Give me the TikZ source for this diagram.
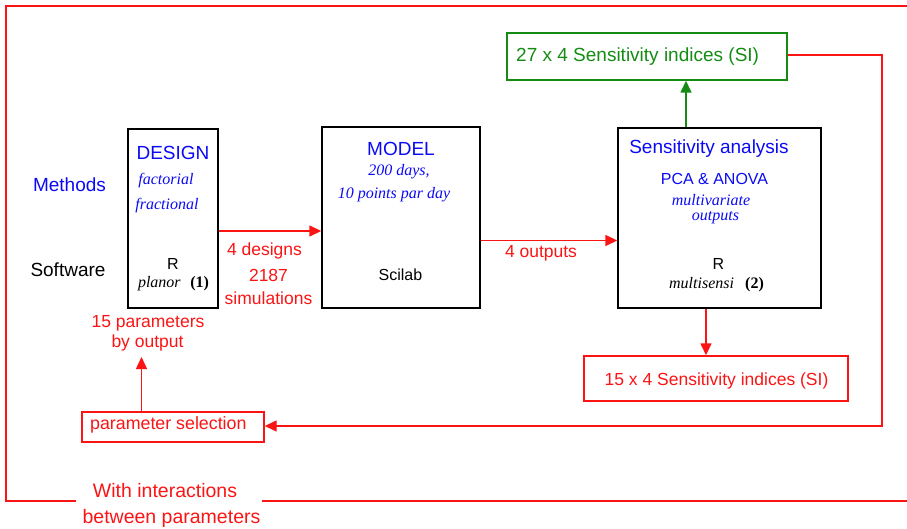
\documentclass[tikz,border=0pt]{standalone}
\usepackage{fontspec}
\setmainfont{Liberation Sans}
\newfontfamily\tms{Liberation Serif}
\usetikzlibrary{arrows.meta}
\definecolor{cblue}{RGB}{10,10,245}
\definecolor{cred}{RGB}{250,20,20}
\definecolor{cgreen}{RGB}{20,140,20}
\tikzset{
  box/.style={draw=black, line width=1.4pt, inner sep=0pt},
  rbox/.style={draw=cred, line width=1.4pt, inner sep=0pt},
  gbox/.style={draw=cgreen, line width=1.4pt, inner sep=0pt},
  rline/.style={draw=cred, line width=1.4pt},
  rarr/.style={rline, -{Triangle[length=12pt,width=11pt]}},
  garr/.style={draw=cgreen, line width=1.4pt, -{Triangle[length=12pt,width=11pt]}},
  sbig/.style={font=\fontsize{19}{22}\selectfont, inner sep=0pt},
  slab/.style={font=\fontsize{19.5}{22}\selectfont, inner sep=0pt},
  smid/.style={font=\fontsize{17.5}{20}\selectfont, inner sep=0pt},
  ssmall/.style={font=\fontsize{16}{19}\selectfont, inner sep=0pt},
  ital/.style={font=\fontsize{16}{19}\selectfont\tms\itshape, inner sep=0pt},
}
\begin{document}
\begin{tikzpicture}[x=1pt,y=-1pt]
\useasboundingbox (0,0) rectangle (907,529);
% boxes
\node[box, minimum width=90pt, minimum height=179pt] (design) at (173,218.5) {};
\node[box, minimum width=158pt, minimum height=181pt] (model) at (401,217.5) {};
\node[box, minimum width=203pt, minimum height=180pt] (sa) at (719.5,218) {};
\node[gbox, minimum width=280pt, minimum height=47pt] (green) at (647,56.5) {};
\node[rbox, minimum width=264pt, minimum height=45pt] (red15) at (716,378.5) {};
\node[rbox, minimum width=182pt, minimum height=30pt] (psel) at (173,427) {};
% box texts
\node[sbig, text=cgreen, anchor=west] (gtxt) at (516,57) {27 x 4 Sensitivity indices (SI)};
\node[smid, text=cred] (rtxt) at (716.5,381) {15 x 4 Sensitivity indices (SI)};
\node[smid, font=\fontsize{17.8}{20}\selectfont, text=cred, anchor=west] (ptxt) at (90,425) {parameter selection};
% DESIGN
\node[sbig, text=cblue] (dtitle) at (173,153) {DESIGN};
\node[ital, text=cblue] (dfact) at (166,181) {factorial};
\node[ital, text=cblue] (dfrac) at (167,206) {fractional};
\node[ssmall] (dR) at (173,264) {R};
\node[ital, text=black] (dplan) at (173.5,284) {planor\hspace{0.6em}{\upshape\bfseries(1)}};
% MODEL
\node[sbig, text=cblue] (mtitle) at (401,149) {MODEL};
\node[ital, text=cblue] (mdays) at (399,172) {200 days,};
\node[ital, text=cblue] (mpts) at (394,195) {10 points par day};
\node[ssmall] (mscil) at (400.5,275) {Scilab};
% SA
\node[sbig, text=cblue] (stitle) at (709,149) {Sensitivity analysis};
\node[ssmall, text=cblue] (spca) at (714.5,179) {PCA \& ANOVA};
\node[ital, text=cblue] (smult) at (711,200) {multivariate};
\node[ital, text=cblue] (sout) at (715.5,218) {outputs};
\node[ssmall] (sR) at (718.5,264) {R};
\node[ital, text=black] (smsens) at (716.5,285) {multisensi\hspace{0.7em}{\upshape\bfseries(2)}};
% side labels
\node[sbig, text=cblue] (meth) at (69.5,185) {Methods};
\node[sbig] (soft) at (68,270) {Software};
% connector labels
\node[smid, text=cred] (l4d) at (264.5,251) {4 designs};
\node[smid, text=cred] (l2187) at (268.5,275) {2187};
\node[smid, text=cred] (lsim) at (268.5,298) {simulations};
\node[smid, text=cred] (l4o) at (541,253) {4 outputs};
\node[smid, text=cred] (l15a) at (148,323) {15 parameters};
\node[smid, text=cred] (l15b) at (147.5,343) {by output};
\node[slab, text=cred] (lwith) at (165,491) {With interactions};
\node[slab, text=cred] (lbetw) at (171.5,518) {between parameters};
% outer loop coordinates
\coordinate (otr) at (907,6);
\coordinate (otl) at (6,6);
\coordinate (obl) at (6,501);
\coordinate (gapl) at (76,501);
\coordinate (gapr) at (262,501);
\coordinate (obr) at (907,501);
\coordinate (rc1) at (882,55);
\coordinate (rc2) at (882,426);
% connectors
\draw[rline] (otr) -- (otl) -- (obl) -- (gapl);
\draw[rline] (gapr) -- (obr);
\draw[rarr] (design.east |- 0,231) -- (model.west |- 0,231);
\draw[rarr] (model.east |- 0,240.5) -- (sa.west |- 0,240.5);
\draw[garr] (sa.north -| 686,0) -- (green.south -| 686,0);
\draw[rarr] (sa.south -| 706,0) -- (red15.north -| 706,0);
\draw[rarr] (green.east |- rc1) -- (rc1) -- (rc2) -- (psel.east |- rc2);
\draw[rarr] (psel.north -| 141.5,0) -- (141.5,357);
\end{tikzpicture}
\end{document}
